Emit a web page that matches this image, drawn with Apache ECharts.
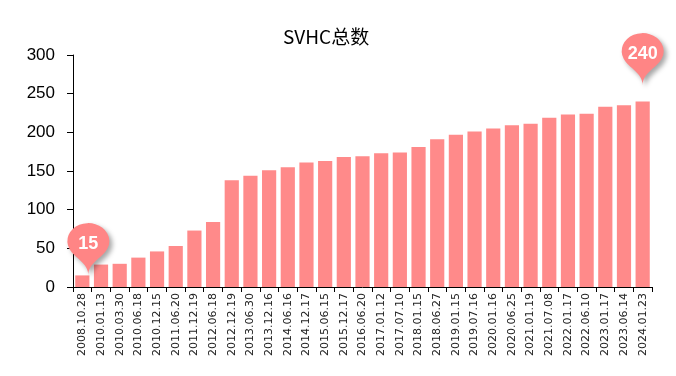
<!DOCTYPE html>
<html>
<head>
<meta charset="utf-8">
<script src="https://cdn.jsdelivr.net/npm/echarts@6/dist/echarts.min.js"></script>
<style>
html,body{margin:0;padding:0;background:#fff;}
#chart{width:676px;height:376px;}
</style>
</head>
<body>
<div id="chart"></div>
<script>
//发布日期
var dateList = ['2008.10.28','2010.01.13','2010.03.30','2010.06.18','2010.12.15','2011.06.20','2011.12.19','2012.06.18',
	'2012.12.19','2013.06.30','2013.12.16','2014.06.16','2014.12.17','2015.06.15','2015.12.17','2016.06.20',
	'2017.01.12','2017.07.10','2018.01.15','2018.06.27','2019.01.15','2019.07.16','2020.01.16','2020.06.25',
	'2021.01.19','2021.07.08','2022.01.17','2022.06.10','2023.01.17','2023.06.14','2024.01.23'];
//SVHC总数
var totalList = [15,29,30,38,46,53,73,84,138,144,151,155,161,163,168,169,173,174,181,191,197,201,205,209,211,219,223,224,233,235,240];
var yTicks = [0,50,100,150,200,250,300];

var myChart = echarts.init(document.getElementById('chart'));
var first = 0, last = totalList.length - 1;
var option = {
	animation: false,
	title: {
		text: 'SVHC总数',
		left: 278,
		top: 22,
		textStyle: { fontFamily: 'Noto Sans CJK SC', fontSize: 19, fontWeight: 'normal', color: '#000' }
	},
	grid: { left: 73, right: 24, top: 55, bottom: 89 },
	xAxis: {
		type: 'category',
		data: dateList,
		axisLine: { lineStyle: { color: '#000', width: 1 } },
		axisTick: { show: true, length: 5, lineStyle: { color: '#000' } },
		axisLabel: { rotate: 90, interval: 0, margin: 6, fontSize: 11, color: '#222', fontFamily: 'DejaVu Sans' }
	},
	yAxis: {
		type: 'value',
		min: yTicks[0],
		max: yTicks[yTicks.length - 1],
		interval: 50,
		axisLine: { show: true, lineStyle: { color: '#000', width: 1 } },
		axisTick: { show: true, length: 6, lineStyle: { color: '#000' } },
		splitLine: { show: false },
		axisLabel: { margin: 18, fontSize: 17, color: '#000', fontFamily: 'Liberation Sans' }
	},
	series: [{
		name: 'SVHC总数',
		type: 'bar',
		barCategoryGap: '24%',
		itemStyle: { color: '#ff8a8a' },
		data: totalList,
		markPoint: {
			symbol: 'pin',
			symbolSize: [70, 60],
			itemStyle: {
				color: '#ff8585',
				shadowBlur: 5,
				shadowOffsetX: 3,
				shadowOffsetY: 3,
				shadowColor: 'rgba(0,0,0,0.35)'
			},
			label: { color: '#fff', fontWeight: 'bold', fontSize: 18, fontFamily: 'Liberation Sans' },
			data: [
				{ coord: [first, totalList[first]], value: totalList[first], symbolOffset: [6, 0] },
				{ coord: [last, totalList[last]], value: totalList[last], symbolOffset: [0, -16] }
			]
		}
	}]
};
myChart.setOption(option);
</script>
</body>
</html>
